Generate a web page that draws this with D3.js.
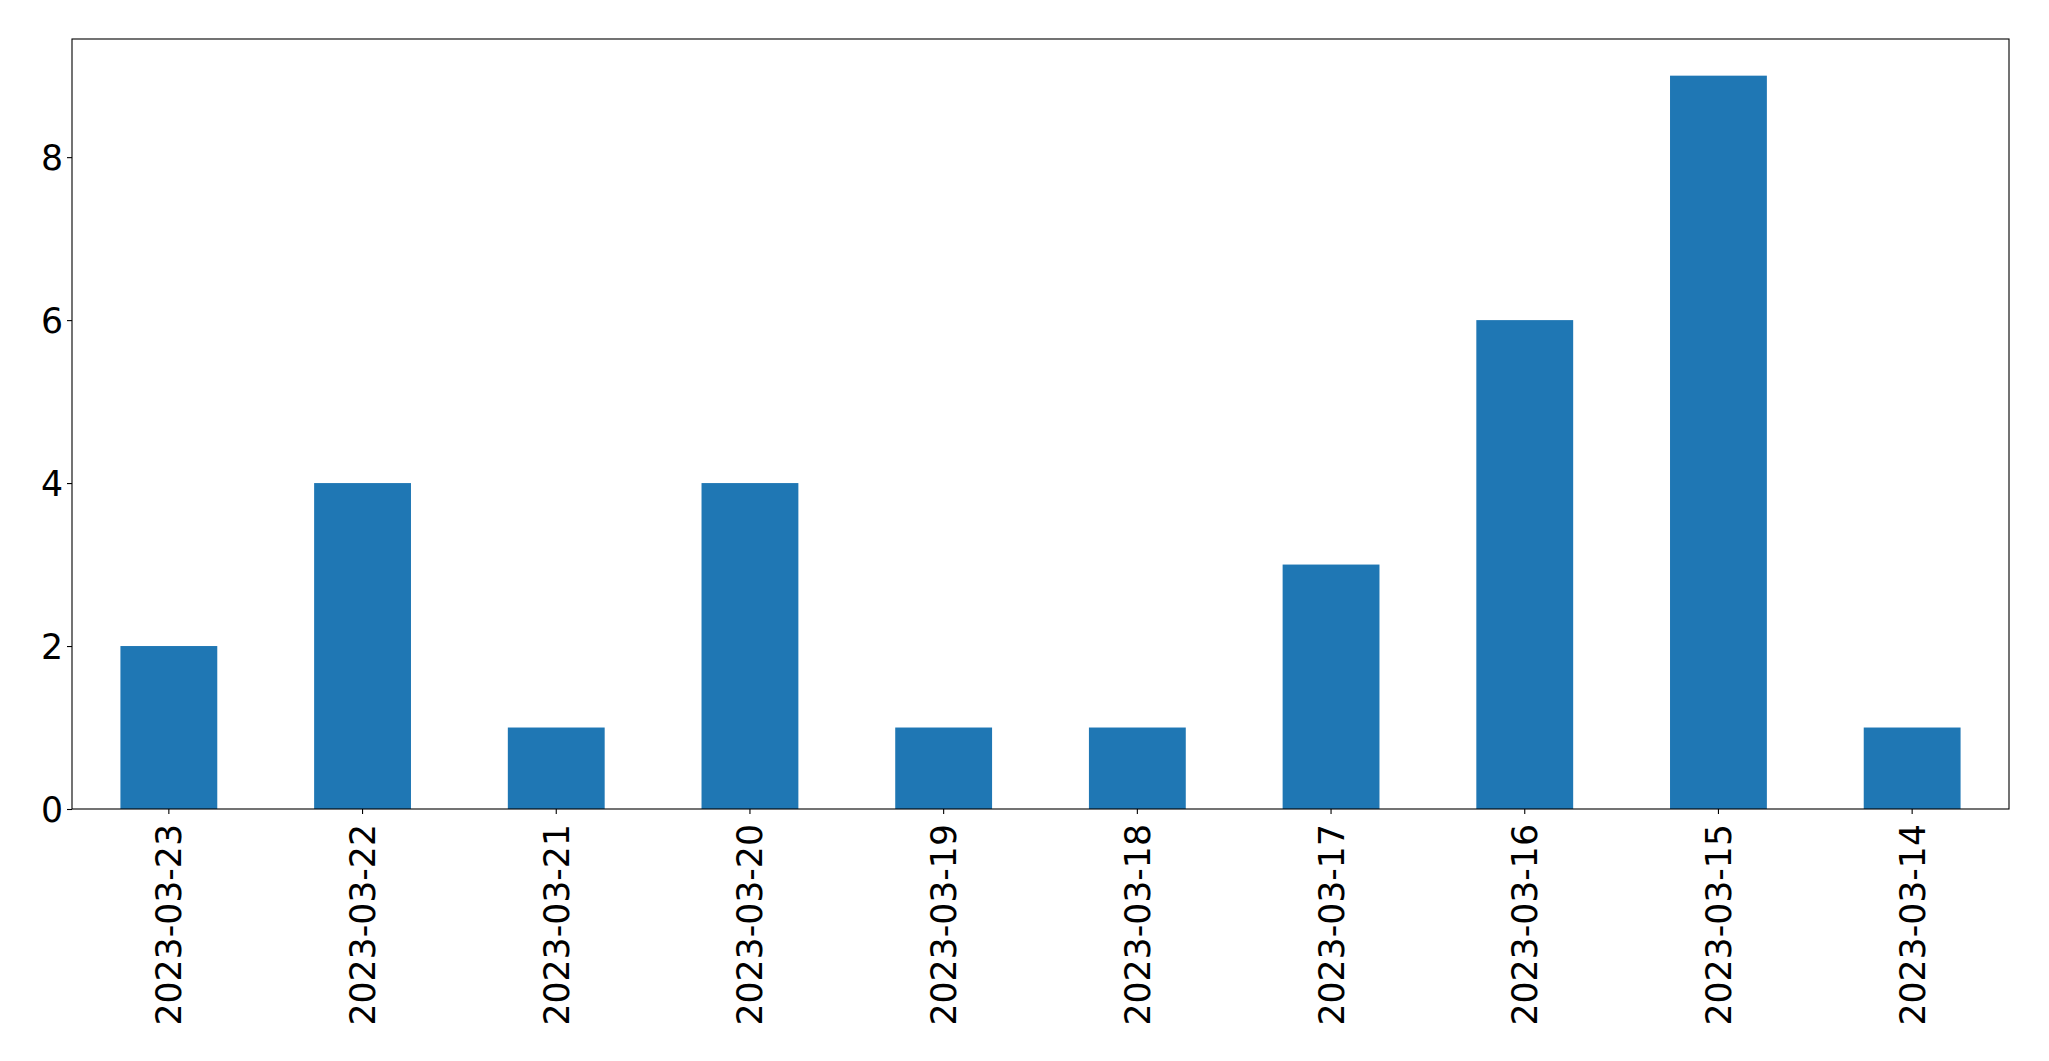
<!DOCTYPE html>
<html>
<head>
<meta charset="utf-8">
<script src="https://cdn.jsdelivr.net/npm/d3@7"></script>
<style>
  html, body { margin: 0; padding: 0; background: #fff; }
  svg { display: block; }
  text { font-family: "DejaVu Sans", sans-serif; fill: #000; }
</style>
</head>
<body>
<script>
const categories = ["2023-03-23","2023-03-22","2023-03-21","2023-03-20","2023-03-19","2023-03-18","2023-03-17","2023-03-16","2023-03-15","2023-03-14"];
const values = [2, 4, 1, 4, 1, 1, 3, 6, 9, 1];
const yTicks = [0, 2, 4, 6, 8];

const W = 2049, H = 1061;
const margin = {left: 72, right: 40, top: 39, bottom: 252};
const plotW = W - margin.left - margin.right;
const plotH = H - margin.top - margin.bottom;
const fontSize = 34.7;

const svg = d3.select("body").append("svg").attr("width", W).attr("height", H);
const g = svg.append("g").attr("transform", `translate(${margin.left},${margin.top})`);

const x = d3.scaleBand().domain(categories).range([0, plotW]).paddingInner(0.5).paddingOuter(0.25);
const y = d3.scaleLinear().domain([0, d3.max(values) * 1.05]).range([plotH, 0]);

g.selectAll("rect.bar").data(values).join("rect")
  .attr("class", "bar")
  .attr("x", (d, i) => x(categories[i]))
  .attr("y", d => y(d))
  .attr("width", x.bandwidth())
  .attr("height", d => y(0) - y(d))
  .attr("fill", "#1f77b4");

// y axis
const yAxis = g.append("g").call(d3.axisLeft(y).tickValues(yTicks).tickSize(5).tickPadding(4).tickFormat(d3.format("d")));
yAxis.select(".domain").remove();
yAxis.selectAll(".tick line").attr("stroke", "#000").attr("stroke-width", 1.1);
yAxis.selectAll(".tick text").attr("font-size", fontSize).attr("font-family", "DejaVu Sans").attr("dy", "0.36em");

// x axis
const xAxis = g.append("g").attr("transform", `translate(0,${plotH})`)
  .call(d3.axisBottom(x).tickSize(5).tickSizeOuter(0));
xAxis.select(".domain").remove();
xAxis.selectAll(".tick line").attr("stroke", "#000").attr("stroke-width", 1.1);
xAxis.selectAll(".tick text")
  .attr("font-size", fontSize)
  .attr("font-family", "DejaVu Sans")
  .attr("text-anchor", "end")
  .attr("transform", "rotate(-90)")
  .attr("x", -15)
  .attr("y", 0)
  .attr("dy", "0.36em");

// frame
g.append("rect").attr("x", 0).attr("y", 0).attr("width", plotW).attr("height", plotH)
  .attr("fill", "none").attr("stroke", "#000").attr("stroke-width", 1.1);
</script>
</body>
</html>
